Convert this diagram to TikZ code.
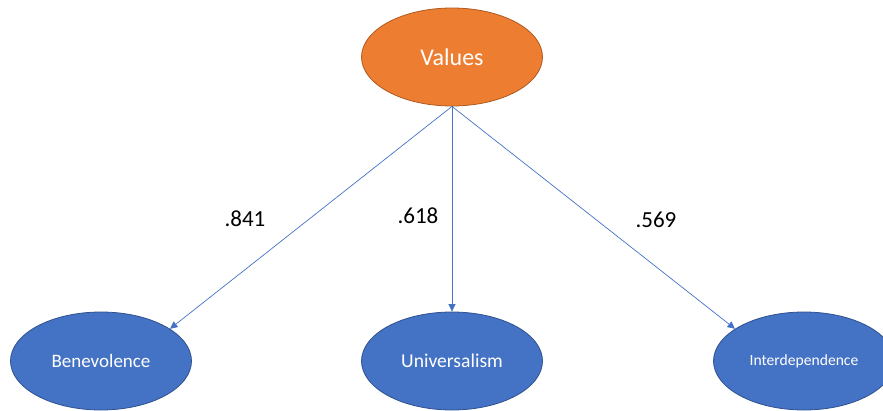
\documentclass[tikz,border=0pt]{standalone}
\usepackage{fontspec}
\setmainfont{Carlito}
\usetikzlibrary{shapes.geometric,arrows.meta}
\definecolor{accentorange}{HTML}{ED7D31}
\definecolor{orangeedge}{HTML}{AE5A21}
\definecolor{accentblue}{HTML}{4472C4}
\definecolor{blueedge}{HTML}{2F528F}
\tikzset{
  factor/.style={ellipse, inner sep=0pt, minimum width=181pt, minimum height=98pt,
    text=white, line width=0.8pt},
  rootfactor/.style={factor, fill=accentorange, draw=orangeedge, font=\fontsize{24}{28}\selectfont},
  leaf/.style={factor, fill=accentblue, draw=blueedge},
  loading/.style={draw=accentblue, line width=0.7pt,
    -{Triangle[length=7.5pt,width=7pt]}},
  coef/.style={font=\fontsize{23}{27}\selectfont, text=black}
}
\begin{document}
\begin{tikzpicture}[x=1pt,y=-1pt]
  \useasboundingbox (0,0) rectangle (883,411);
  \node[rootfactor] (values) at (452,57) {Values};
  \node[leaf, font=\fontsize{19}{23}\selectfont] (bene) at (101,361) {Benevolence};
  \node[leaf, font=\fontsize{19.6}{23}\selectfont] (univ) at (452,361) {Universalism};
  \node[leaf, font=\fontsize{15.6}{19}\selectfont] (inter) at (804,361) {Interdependence};
  \draw[loading] (values.south) -- (bene.25);
  \draw[loading] (values.south) -- (univ.north);
  \draw[loading] (values.south) -- (inter.155);
  \node[coef] (l1) at (245,219) {.841};
  \node[coef] (l2) at (418,216) {.618};
  \node[coef] (l3) at (656,220) {.569};
\end{tikzpicture}
\end{document}
